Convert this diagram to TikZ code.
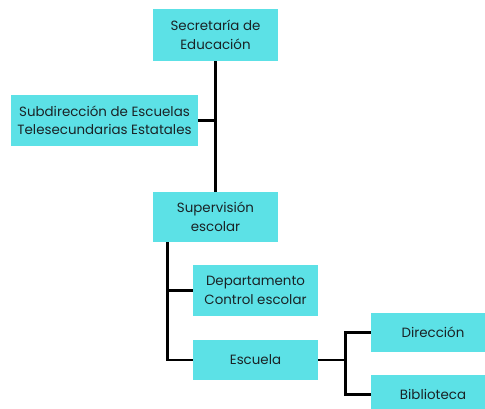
\documentclass[tikz,border=0pt]{standalone}
\usepackage{fontspec}
\setmainfont{Poppins}
\definecolor{boxcyan}{HTML}{5CE1E6}
\definecolor{txt}{HTML}{1A2326}
\begin{document}
\begin{tikzpicture}[x=1pt,y=-1pt,
  orgbox/.style={fill=boxcyan,inner sep=0pt,align=center,text=txt,
    font=\fontsize{13.4}{18.5}\selectfont},
  link/.style={line width=2.7pt,black}]
\useasboundingbox (0,0) rectangle (485,408);
\node[orgbox,minimum width=125pt,minimum height=52pt] (sec) at (215.5,35) {Secretaría de\\Educación};
\node[orgbox,minimum width=187pt,minimum height=51pt] (sub) at (104.5,120.5) {Subdirección de Escuelas\\Telesecundarias Estatales};
\node[orgbox,minimum width=125pt,minimum height=50pt] (sup) at (215.5,217) {Supervisión\\escolar};
\node[orgbox,minimum width=125pt,minimum height=51pt] (dep) at (255.5,290.5) {Departamento\\Control escolar};
\node[orgbox,minimum width=125pt,minimum height=40pt] (esc) at (255.5,360) {Escuela};
\node[orgbox,minimum width=124pt,minimum height=39pt] (dir) at (433,332.5) {Dirección};
\node[orgbox,minimum width=124pt,minimum height=39pt] (bib) at (433,394.5) {Biblioteca};
\coordinate (sb) at ([xshift=15pt]sup.south west);
\coordinate (em) at ([xshift=27pt]esc.east);
\draw[link] (sec.south) -- (sup.north);
\draw[link] (sub.east) -- (sub.east -| sec.south);
\draw[link] (sb) |- (esc.west);
\draw[link] (sb |- dep.west) -- (dep.west);
\draw[link] (esc.east) -- (em);
\draw[link] (dir.west) -| (em |- dir.west) |- (bib.west);
\end{tikzpicture}
\end{document}
